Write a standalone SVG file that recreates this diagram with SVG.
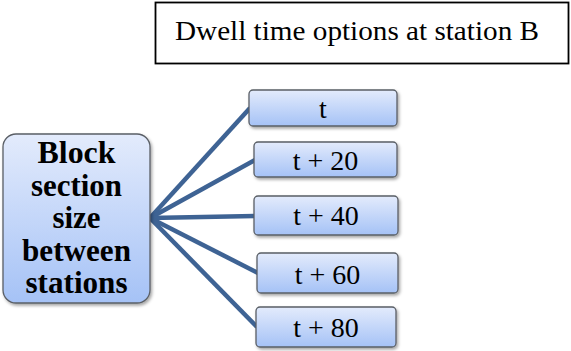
<svg xmlns="http://www.w3.org/2000/svg" width="571" height="351" viewBox="0 0 571 351">
<defs>
<linearGradient id="g" x1="0" y1="0" x2="0" y2="1">
<stop offset="0" stop-color="#e3ebfc"/>
<stop offset="1" stop-color="#a5c2f6"/>
</linearGradient>
<filter id="sh" x="-10%" y="-10%" width="130%" height="140%">
<feDropShadow dx="1.5" dy="2" stdDeviation="1.5" flood-color="#000" flood-opacity="0.35"/>
</filter>
</defs>
<style>
.box{fill:url(#g);stroke:#5a5f66;stroke-width:1.3;filter:url(#sh)}
.lbl{font-family:'Liberation Serif','Tinos','Times New Roman','Noto Serif','DejaVu Serif',serif;font-size:28px;fill:#000;text-anchor:middle}
.big{font-family:'Liberation Serif','Tinos','Times New Roman','Noto Serif','DejaVu Serif',serif;font-size:31px;font-weight:bold;fill:#000;text-anchor:middle}
.con{stroke:#3e6394;stroke-width:4.5;stroke-linecap:butt;fill:none}
</style>
<rect width="571" height="351" fill="#fff"/>
<g id="title">
<rect x="155.5" y="2.5" width="413" height="61" fill="#fff" stroke="#000" stroke-width="1.8"/>
<text class="lbl" x="357" y="40" textLength="364" lengthAdjust="spacingAndGlyphs">Dwell time options at station B</text>
</g>
<g id="connectors">
<line class="con" x1="150" y1="218" x2="250" y2="108"/>
<line class="con" x1="150" y1="218" x2="255" y2="160"/>
<line class="con" x1="150" y1="218" x2="255" y2="216"/>
<line class="con" x1="150" y1="218" x2="258" y2="273"/>
<line class="con" x1="150" y1="218" x2="257" y2="327"/>
</g>
<g id="block">
<rect class="box" x="3" y="134" width="147" height="169" rx="13"/>
<text class="big" x="76.5" y="163" textLength="78" lengthAdjust="spacingAndGlyphs">Block</text>
<text class="big" x="76.5" y="195.5" textLength="91" lengthAdjust="spacingAndGlyphs">section</text>
<text class="big" x="76.5" y="228" textLength="48" lengthAdjust="spacingAndGlyphs">size</text>
<text class="big" x="76.5" y="260.5" textLength="109" lengthAdjust="spacingAndGlyphs">between</text>
<text class="big" x="76.5" y="293" textLength="102" lengthAdjust="spacingAndGlyphs">stations</text>
</g>
<g id="opt-t">
<rect class="box" x="249" y="90" width="148" height="36" rx="4"/>
<text class="lbl" x="323" y="118">t</text>
</g>
<g id="opt-t20">
<rect class="box" x="254" y="142" width="143" height="35" rx="4"/>
<text class="lbl" x="325.5" y="170">t + 20</text>
</g>
<g id="opt-t40">
<rect class="box" x="254" y="196" width="144" height="39" rx="4"/>
<text class="lbl" x="326" y="225">t + 40</text>
</g>
<g id="opt-t60">
<rect class="box" x="257" y="253" width="141" height="40" rx="4"/>
<text class="lbl" x="327.5" y="284">t + 60</text>
</g>
<g id="opt-t80">
<rect class="box" x="256" y="307" width="140" height="40" rx="4"/>
<text class="lbl" x="326" y="337">t + 80</text>
</g>
</svg>
